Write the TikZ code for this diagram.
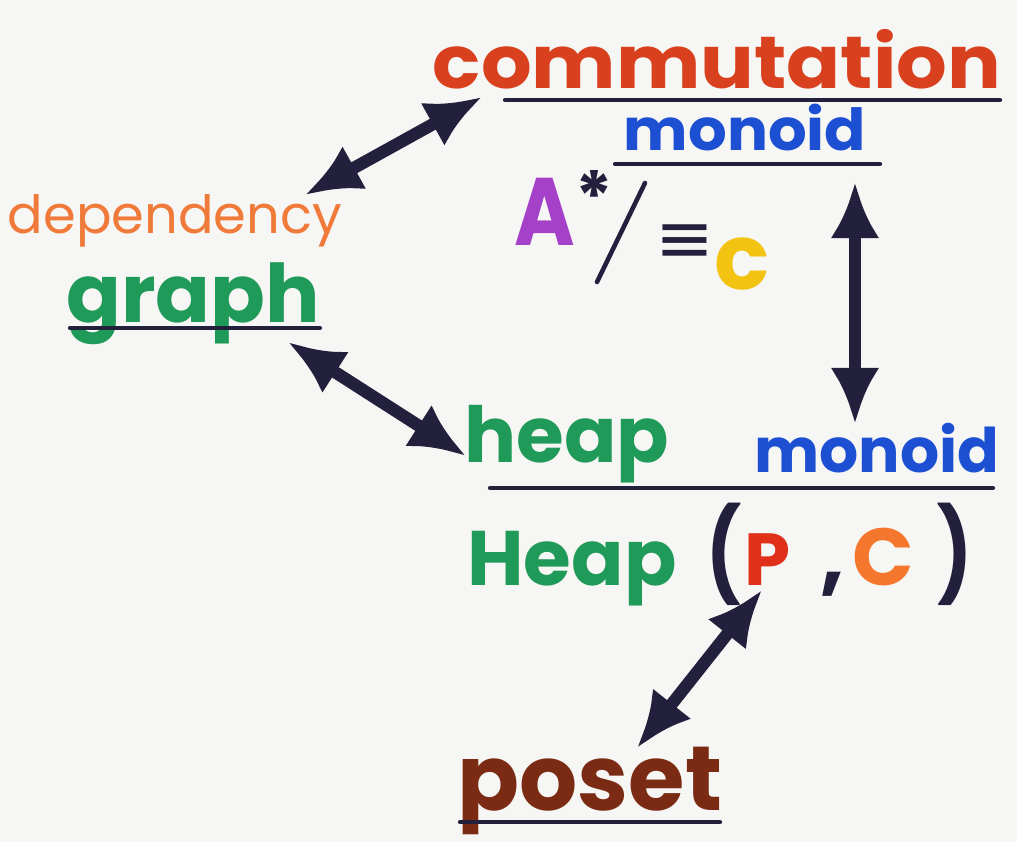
\documentclass[tikz,border=0pt]{standalone}
\usepackage{fontspec}
\setmainfont{Poppins}
\newfontfamily\symfont{DejaVu Sans}
\usetikzlibrary{arrows.meta}
\definecolor{ink}{HTML}{23203D}
\definecolor{paper}{HTML}{F6F6F4}
\definecolor{comred}{HTML}{D9401E}
\definecolor{monoblue}{HTML}{1C4FD2}
\definecolor{apurple}{HTML}{A540C8}
\definecolor{cyellow}{HTML}{F2C310}
\definecolor{deporange}{HTML}{F07A3A}
\definecolor{hgreen}{HTML}{1F9A58}
\definecolor{pred}{HTML}{E0301A}
\definecolor{corange}{HTML}{F5772E}
\definecolor{posetbrown}{HTML}{7B2B14}
\newcommand{\mkfs}[1]{\fontsize{#1}{#1}\selectfont}
\begin{document}
\begin{tikzpicture}[x=0.02cm,y=-0.02cm,
  lbl/.style={anchor=base,inner sep=0pt,outer sep=0pt},
  rule/.style={ink,line width=2.4pt,line cap=round},
  link/.style={ink,line width=7pt,
    {Latex[length=32pt,width=28pt]}-{Latex[length=32pt,width=28pt]}}]
\fill[paper] (0,0) rectangle (1017,842);
\useasboundingbox (0,0) rectangle (1017,842);

% top: commutation monoid A*/=c
\node[lbl,text=comred,font=\mkfs{42}\bfseries] (comm) at (717,88) {\scalebox{1.08}[1]{commutation}};
\draw[rule] (505,100) -- (1000,100);
\node[lbl,text=monoblue,font=\mkfs{33}\bfseries] (mono1) at (745,150) {\scalebox{1.05}[1]{monoid}};
\draw[rule] (615,164) -- (880,164);
\node[lbl,text=apurple,font=\mkfs{52}\bfseries] (alpha) at (545,245) {\scalebox{0.9}[1.05]{A}};
\node[lbl,text=ink,font=\mkfs{40}\bfseries] (star) at (594,222) {*};
\coordinate (slashtop) at (645,183);
\coordinate (slashbot) at (597,282);
\draw[ink,line width=2.6pt,line cap=round] (slashtop) -- (slashbot);
\node[lbl,text=ink,font=\mkfs{40}\symfont] (equiv) at (685,262) {≡};
\node[lbl,text=cyellow,font=\mkfs{52}\bfseries] (csub) at (742,289) {c};

% left: dependency graph
\node[lbl,text=deporange,font=\mkfs{30}] (dep) at (175,233) {dependency};
\node[lbl,text=hgreen,font=\mkfs{46}\bfseries] (graph) at (193,322) {graph};
\draw[rule] (70,328) -- (320,328);

% middle: heap monoid, Heap(P,C)
\node[lbl,text=hgreen,font=\mkfs{44}\bfseries] (heap) at (567,462) {heap};
\node[lbl,text=monoblue,font=\mkfs{35}\bfseries] (mono2) at (877,472) {monoid};
\draw[rule] (490,488) -- (993,488);
\node[lbl,text=hgreen,font=\mkfs{44}\bfseries] (Heap) at (572,585) {Heap};
\node[lbl,text=ink,font=\mkfs{52}\bfseries] (lpar) at (724,586) {\scalebox{0.8}[1]{(}};
\node[lbl,text=pred,font=\mkfs{42}\bfseries] (P) at (768,585) {P};
\node[lbl,text=ink,font=\mkfs{48}\bfseries] (comma) at (833,585) {,};
\node[lbl,text=corange,font=\mkfs{46}\bfseries] (C) at (883,585) {C};
\node[lbl,text=ink,font=\mkfs{52}\bfseries] (rpar) at (955,586) {\scalebox{0.8}[1]{)}};

% bottom: poset
\node[lbl,text=posetbrown,font=\mkfs{52}\bfseries] (poset) at (590,810) {poset};
\draw[rule] (460,822) -- (720,822);

% connectors
\coordinate (dep-ne) at (305,195);
\coordinate (comm-w) at (482,97);
\coordinate (graph-se) at (288,342);
\coordinate (heap-w) at (466,456);
\coordinate (mono1-s) at (855,182);
\coordinate (mono2-n) at (855,424);
\coordinate (poset-n) at (637,748);
\coordinate (P-s) at (762,590);
\draw[link] (dep-ne) -- (comm-w);
\draw[link] (graph-se) -- (heap-w);
\draw[link] (mono1-s) -- (mono2-n);
\draw[link] (poset-n) -- (P-s);
\end{tikzpicture}
\end{document}
